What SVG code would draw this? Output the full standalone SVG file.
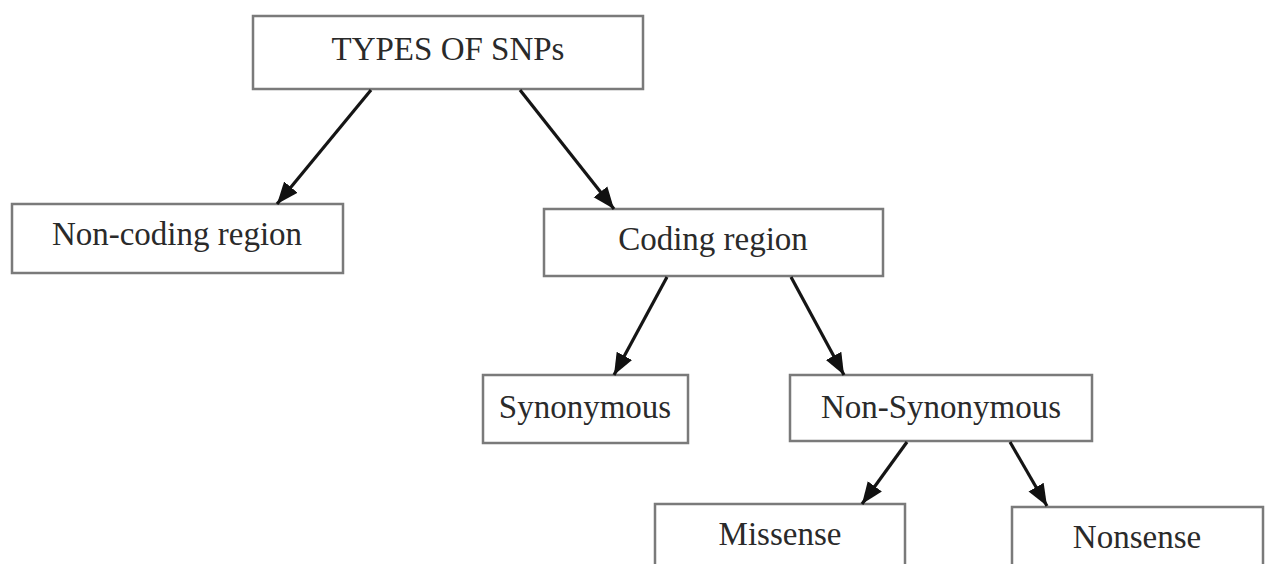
<svg xmlns="http://www.w3.org/2000/svg" width="1269" height="564" viewBox="0 0 1269 564">
<style>
.box{fill:#fff;stroke:#7a7a7a;stroke-width:2.5}
.lbl{font-family:"Liberation Serif","Times New Roman",serif;font-size:33px;fill:#2a2a2a;text-anchor:middle}
.conn{stroke:#151515;stroke-width:3.2;fill:none}
</style>
<defs>
<marker id="ah" markerUnits="userSpaceOnUse" markerWidth="24" markerHeight="24" viewBox="0 0 22 22" refX="20" refY="11" orient="auto">
<path d="M0,3 L20,11 L0,19 Z" fill="#111"/>
</marker>
</defs>
<rect width="1269" height="564" fill="#fff"/>
<g id="types"><rect class="box" x="253" y="16" width="390" height="73"/><text class="lbl" x="448" y="60">TYPES OF SNPs</text></g>
<g id="noncoding"><rect class="box" x="12" y="204" width="331" height="69"/><text class="lbl" x="177" y="245">Non-coding region</text></g>
<g id="coding"><rect class="box" x="544" y="209" width="339" height="67"/><text class="lbl" x="713" y="250">Coding region</text></g>
<g id="synonymous"><rect class="box" x="483" y="375" width="205" height="68"/><text class="lbl" x="585" y="418">Synonymous</text></g>
<g id="nonsynonymous"><rect class="box" x="790" y="375" width="302" height="66"/><text class="lbl" x="941" y="418">Non-Synonymous</text></g>
<g id="missense"><rect class="box" x="655" y="504" width="250" height="80"/><text class="lbl" x="780" y="545">Missense</text></g>
<g id="nonsense"><rect class="box" x="1012" y="507" width="251" height="80"/><text class="lbl" x="1137" y="548">Nonsense</text></g>
<g id="connectors">
<line class="conn" x1="371" y1="90" x2="277" y2="204" marker-end="url(#ah)"/>
<line class="conn" x1="520" y1="90" x2="614" y2="209" marker-end="url(#ah)"/>
<line class="conn" x1="667" y1="277" x2="614" y2="375" marker-end="url(#ah)"/>
<line class="conn" x1="791" y1="277" x2="844" y2="375" marker-end="url(#ah)"/>
<line class="conn" x1="907" y1="442" x2="862" y2="504" marker-end="url(#ah)"/>
<line class="conn" x1="1010" y1="442" x2="1047" y2="506" marker-end="url(#ah)"/>
</g>
</svg>
